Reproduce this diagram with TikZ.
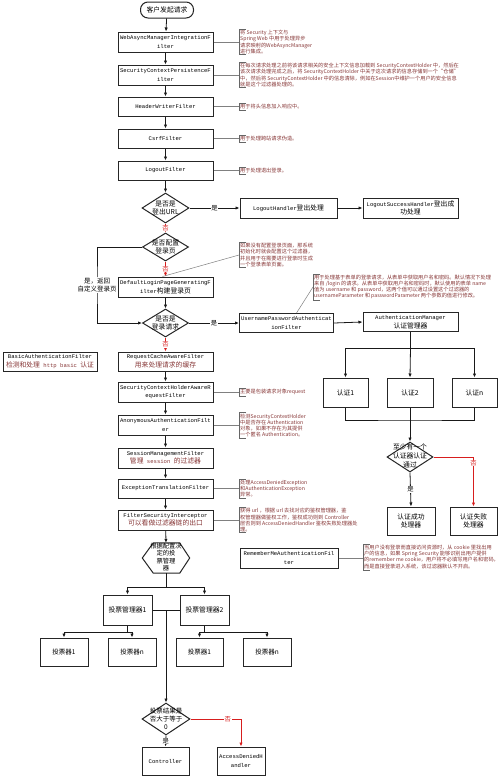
\documentclass[tikz,border=0pt]{standalone}
\usepackage{fontspec}
\setmonofont{Liberation Mono}
\newfontfamily\cjk{Noto Sans CJK SC}
\usetikzlibrary{arrows.meta,shapes.geometric,calc}
\definecolor{annot}{RGB}{135,55,55}
\definecolor{redl}{RGB}{215,30,30}
\newcommand\boxfont{\ttfamily\fontsize{5.6}{8.5}\selectfont}
\newcommand\zhfont{\cjk\fontsize{6.8}{8.5}\selectfont}
\newcommand\annfont{\cjk\fontsize{5.2}{6.1}\selectfont}
\newcommand\lblfont{\cjk\fontsize{6.3}{7}\selectfont}
\newcommand\zh[1]{{\cjk\fontsize{6.8}{8.5}\selectfont #1}}
\newcommand\annbrk[1]{\draw[brk] ([xshift=7pt]#1.north west) -- (#1.north west) -- (#1.south west) -- ([xshift=7pt]#1.south west);}
\begin{document}
\begin{tikzpicture}[x=1pt,y=-1pt,
  mbox/.style={draw=black!85,line width=1pt,fill=white,inner sep=0pt,align=center,font=\boxfont,minimum width=95pt,minimum height=20pt},
  sbox/.style={draw=black!85,line width=1pt,fill=white,inner sep=0pt,align=center,font=\boxfont},
  zbox/.style={sbox,font=\zhfont},
  dia/.style={draw=black!85,line width=1pt,diamond,fill=white,inner sep=0pt},
  dtext/.style={align=center,font=\zhfont,inner sep=0pt},
  arr/.style={-{Latex[length=4pt,width=3.4pt]},line width=0.8pt,draw=black!90},
  ln/.style={line width=0.8pt,draw=black!90},
  rarr/.style={arr,draw=redl},
  lbl/.style={fill=white,inner sep=0.6pt,font=\lblfont},
  rlbl/.style={lbl,text=redl},
  ann/.style={anchor=west,align=left,inner sep=1pt,font=\annfont,text=annot},
  brk/.style={draw=black!60,line width=0.6pt},
  acon/.style={draw=black!50,line width=0.5pt}]
\fill[white] (0,0) rectangle (500,777);
\useasboundingbox (0,0) rectangle (500,777);

% main column
\node[draw=black!85,line width=1pt,rounded corners=7.5pt,minimum width=53pt,minimum height=16pt,inner sep=0pt,font=\zhfont] (start) at (167,10) {客户发起请求};
\node[mbox] (web) at (165.5,42) {WebAsyncManagerIntegrationF\\ilter};
\node[mbox] (scp) at (165.5,75) {SecurityContextPersistenceF\\ilter};
\node[mbox,minimum height=19pt] (hdr) at (165.5,106.5) {HeaderWriterFilter};
\node[mbox,minimum height=19pt] (csrf) at (165.5,138.5) {CsrfFilter};
\node[mbox,minimum height=19pt] (logout) at (165.5,170.5) {LogoutFilter};
\node[dia,minimum width=47pt,minimum height=30pt] (d1) at (165.5,208) {};
\node[dtext] (d1t) at (d1) {是否是\\登出URL};
\node[sbox,minimum width=97pt,minimum height=20pt] (lh) at (288.5,208) {LogoutHandler\zh{登出处理}};
\node[sbox,minimum width=95pt,minimum height=20pt] (lsh) at (410.5,208) {LogoutSuccessHandler\zh{登出成}\\\zh{功处理}};
\node[dia,minimum width=46pt,minimum height=28pt] (d2) at (165.5,247) {};
\node[dtext] (d2t) at (d2) {是否配置\\登录页};
\node[mbox] (default) at (165.5,287) {DefaultLoginPageGeneratingF\\ilter\zh{构建登录页}};
\node[dia,minimum width=46pt,minimum height=28pt] (d3) at (165.5,323) {};
\node[dtext] (d3t) at (d3) {是否是\\登录请求};
\node[sbox,minimum width=94pt,minimum height=19pt] (upaf) at (286.5,323) {UsernamePasswordAuthenticat\\ionFilter};
\node[sbox,minimum width=95pt,minimum height=19pt] (am) at (410.5,322) {AuthenticationManager\\\zh{认证管理器}};
\node[zbox,minimum width=45pt,minimum height=29pt] (a1) at (345.5,392.5) {认证1};
\node[zbox,minimum width=46pt,minimum height=29pt] (a2) at (410,392.5) {认证2};
\node[zbox,minimum width=45pt,minimum height=29pt] (an) at (474.5,392.5) {认证n};
\node[dia,minimum width=46pt,minimum height=30pt] (d4) at (410,457) {};
\node[dtext,font=\cjk\fontsize{6.8}{9}\selectfont] (d4t) at (410,456) {至少有一个\\认证器认证\\通过};
\node[zbox,minimum width=48pt,minimum height=28pt] (succ) at (411,521) {认证成功\\处理器};
\node[zbox,minimum width=47pt,minimum height=28pt] (fail) at (473.5,521) {认证失败\\处理器};
\node[sbox,minimum width=94pt,minimum height=19pt] (basic) at (50,361.5) {BasicAuthenticationFilter\\\textcolor{annot}{\zh{检测和处理} http basic \zh{认证}}};
\node[mbox,minimum height=19pt] (reqcache) at (165.5,361.5) {RequestCacheAwareFilter\\\textcolor{annot}{\zh{用来处理请求的缓存}}};
\node[mbox] (schar) at (165.5,392) {SecurityContextHolderAwareR\\equestFilter};
\node[mbox] (anon) at (165.5,425) {AnonymousAuthenticationFilt\\er};
\node[mbox] (sess) at (165.5,458) {SessionManagementFilter\\\textcolor{annot}{\zh{管理} session \zh{的过滤器}}};
\node[mbox,minimum height=19pt] (exc) at (165.5,488.5) {ExceptionTranslationFilter};
\node[mbox] (fsi) at (165.5,520) {FilterSecurityInterceptor\\\textcolor{annot}{\zh{可以看做过滤器链的出口}}};
\node[minimum width=47pt,minimum height=30pt,inner sep=0pt] (hex) at (166,558) {};
\draw[draw=black!85,line width=1pt,fill=white] (hex.west) -- ([xshift=11pt]hex.north west) -- ([xshift=-10pt]hex.north east) -- (hex.east) -- ([xshift=-10pt]hex.south east) -- ([xshift=11pt]hex.south west) -- cycle;
\node[dtext,font=\cjk\fontsize{6.3}{7.4}\selectfont] (hext) at (166,557) {根据配置决\\定的投\\票管理\\器};
\node[sbox,minimum width=98pt,minimum height=20pt] (rem) at (289,558) {RememberMeAuthenticationFil\\ter};
\node[zbox,minimum width=49pt,minimum height=30pt] (vm1) at (127.5,610) {投票管理器1};
\node[zbox,minimum width=49pt,minimum height=30pt] (vm2) at (204.5,610) {投票管理器2};
\node[zbox,minimum width=48pt,minimum height=28pt,font=\cjk\fontsize{6.5}{8}\selectfont] (v11) at (64,652) {投票器1};
\node[zbox,minimum width=48pt,minimum height=28pt,font=\cjk\fontsize{6.5}{8}\selectfont] (v1n) at (132,652) {投票器n};
\node[zbox,minimum width=47pt,minimum height=28pt,font=\cjk\fontsize{6.5}{8}\selectfont] (v21) at (199.5,652) {投票器1};
\node[zbox,minimum width=48pt,minimum height=28pt,font=\cjk\fontsize{6.5}{8}\selectfont] (v2n) at (267,652) {投票器n};
\node[dia,minimum width=48pt,minimum height=32pt] (d5) at (166,719) {};
\node[dtext,font=\cjk\fontsize{6.5}{8}\selectfont] (d5t) at (166,719) {投票结果是\\否大于等于\\0};
\node[sbox,minimum width=47pt,minimum height=28pt] (ctrl) at (165.5,761) {Controller};
\node[sbox,minimum width=48pt,minimum height=28pt] (adh) at (241,761) {AccessDeniedH\\andler};

% connectors main column
\draw[arr] (start) -- (web);
\draw[arr] (web) -- (scp);
\draw[arr] (scp) -- (hdr);
\draw[arr] (hdr) -- (csrf);
\draw[arr] (csrf) -- (logout);
\draw[arr] (logout) -- (d1);
\draw[arr] (d1.east) -- node[lbl] {是} (lh.west);
\draw[arr] (lh.east) -- (lsh.west);
\draw[rarr] (d1.south) -- node[rlbl] {否} (d2.north);
\draw[rarr] (d2.south) -- node[rlbl] {否} (default.north);
\coordinate (lpx) at (97,285);
\draw[arr] (d2.west) -| (lpx) |- (d3.west);
\node[lbl,align=center,font=\cjk\fontsize{6.5}{8}\selectfont] (lpl) at (lpx) {是，返回\\自定义登录页};
\draw[arr] (default) -- (d3);
\draw[arr] (d3.east) -- node[lbl] {是} (upaf.west);
\draw[arr] (upaf.east) -- (am.west);
\coordinate (amj) at (410.5,348);
\draw[ln] (am.south) -- (amj);
\draw[arr] (amj) -| (a1.north);
\draw[arr] (amj) -- (a2.north);
\draw[arr] (amj) -| (an.north);
\coordinate (aj) at (410,420);
\draw[ln] (a1.south) |- (aj) -| (an.south);
\draw[arr] (a2.south) -- (d4.north);
\draw[arr] (d4.south) -- node[lbl] {是} (succ.north);
\draw[rarr] (d4.east) -| node[rlbl,pos=0.56] {否} (fail.north);
\draw[rarr] (d3.south) -- node[rlbl] {否} (reqcache.north);
\draw[arr] (reqcache) -- (schar);
\draw[arr] (schar) -- (anon);
\draw[arr] (anon) -- (sess);
\draw[arr] (sess) -- (exc);
\draw[arr] (exc) -- (fsi);
\draw[arr] (fsi) -- (hex.north);
\coordinate (hj) at (166,587);
\draw[ln] (hex.south) -- (hj);
\draw[arr] (hj) -| (vm1.north);
\draw[arr] (hj) -| (vm2.north);
\draw[ln] (vm1.east) -- (vm2.west);
\coordinate (vmj) at (166,610);
\draw[arr] (vmj) -- (d5.north);
\coordinate (vm1j) at (127.5,632);
\draw[ln] (vm1.south) -- (vm1j);
\draw[arr] (vm1j) -| (v11.north);
\draw[arr] (vm1j) -| (v1n.north);
\coordinate (vm2j) at (204.5,632);
\draw[ln] (vm2.south) -- (vm2j);
\draw[arr] (vm2j) -| (v21.north);
\draw[arr] (vm2j) -| (v2n.north);
\draw[arr] (d5.south) -- node[lbl] {是} (ctrl.north);
\draw[rarr] (d5.east) -| node[rlbl,pos=0.37] {否} (adh.north);

% annotations
\node[ann] (n1) at (239,42) {将 Security 上下文与\\Spring Web 中用于处理异步\\请求映射的WebAsyncManager\\进行集成。};
\node[ann] (n2) at (239,75) {在每次请求处理之前将该请求相关的安全上下文信息加载到 SecurityContextHolder 中，然后在\\该次请求处理完成之后，将 SecurityContextHolder 中关于这次请求的信息存储到一个“仓储”\\中，然后将 SecurityContextHolder 中的信息清除，例如在Session中维护一个用户的安全信息\\就是这个过滤器处理的。};
\node[ann] (n3) at (239,106.5) {用于将头信息加入响应中。};
\node[ann] (n4) at (239,138.5) {用于处理跨站请求伪造。};
\node[ann] (n5) at (239,170.5) {用于处理退出登录。};
\node[ann] (n6) at (239,255) {如果没有配置登录页面，那系统\\初始化时就会配置这个过滤器，\\并且用于在需要进行登录时生成\\一个登录表单页面。};
\node[ann] (n7) at (313,287) {用于处理基于表单的登录请求，从表单中获取用户名和密码。默认情况下处理\\来自 /login 的请求。从表单中获取用户名和密码时，默认使用的表单 name\\值为 username 和 password，这两个值可以通过设置这个过滤器的\\usernameParameter 和 passwordParameter 两个参数的值进行修改。};
\node[ann] (n8) at (239,392) {主要是包装请求对象request};
\node[ann] (n9) at (239,425.5) {检测SecurityContextHolder\\中是否存在 Authentication\\对象，如果不存在为其提供\\一个匿名 Authentication。};
\node[ann] (n10) at (239,488.5) {处理AccessDeniedException\\和AuthenticationException\\异常。};
\node[ann] (n11) at (239,520) {获得 url ，根据 url 去找对应的鉴权管理器，鉴\\权管理器做鉴权工作，鉴权成功则到 Controller\\层否则到 AccessDeniedHandler 鉴权失败处理器处\\理。};
\node[ann] (n12) at (363,557) {当用户没有登录而直接访问资源时，从 cookie 里找出用\\户的信息，如果 Spring Security 能够识别出用户提供\\的remember me cookie，用户将不必填写用户名和密码，\\而是直接登录进入系统，该过滤器默认不开启。};
\foreach \n in {n1,n2,n3,n4,n5,n6,n7,n8,n9,n10,n11,n12} {\annbrk{\n}}
\draw[acon] (web.east) -- (web.east -| n1.west);
\draw[acon] (scp.east) -- (scp.east -| n2.west);
\draw[acon] (hdr.east) -- (hdr.east -| n3.west);
\draw[acon] (csrf.east) -- (csrf.east -| n4.west);
\draw[acon] (logout.east) -- (logout.east -| n5.west);
\draw[acon] ([xshift=-3pt]default.north) -- (n6.west);
\draw[acon] ([xshift=10pt]upaf.north) -- (n7.west);
\draw[acon] (schar.east) -- (schar.east -| n8.west);
\draw[acon] (anon.east) -- (anon.east -| n9.west);
\draw[acon] (exc.east) -- (exc.east -| n10.west);
\draw[acon] (fsi.east) -- (fsi.east -| n11.west);
\draw[acon] (rem.east) -- (rem.east -| n12.west);
\end{tikzpicture}
\end{document}
